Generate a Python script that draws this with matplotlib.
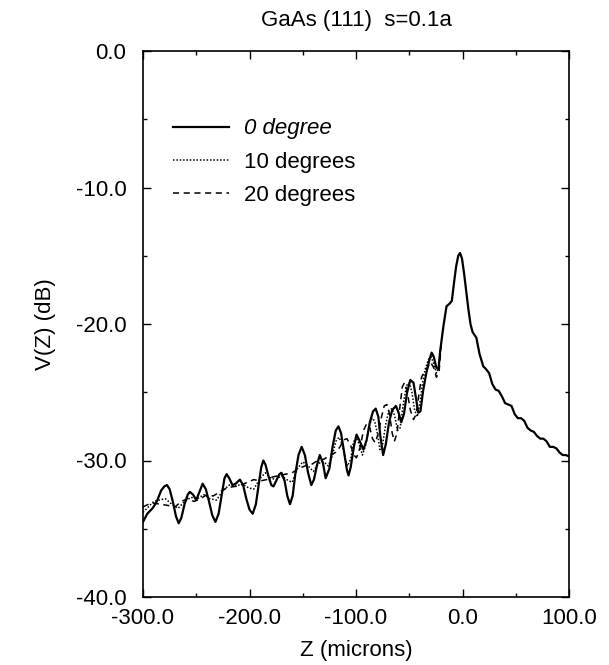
import matplotlib
matplotlib.use("Agg")
import matplotlib.pyplot as plt
from matplotlib.ticker import MultipleLocator, FormatStrFormatter

plt.rcParams['font.family'] = ['Liberation Sans', 'DejaVu Sans']

# ---- data ----
z0 = [-300, -296, -291, -287, -283, -280, -277.5, -275, -272, -269, -266.5, -264, -261, -258, -256,
      -253, -250, -247, -244, -241, -238, -235, -232, -229, -226, -223.5, -221.5, -219, -216, -213,
      -209, -206, -203, -200, -197, -194, -191, -189, -187, -185, -182, -179.5, -177.5, -175, -172,
      -170, -167, -164.5, -162, -159.5, -157, -154, -151, -148, -145, -142, -139.5, -136.5, -134,
      -131, -128.5, -125, -122, -119, -116.5, -114, -111, -108.5, -107, -105, -102, -99.5, -97, -93,
      -90, -87, -84, -81.5, -79, -77, -74.5, -72, -69, -66, -62.5, -60, -57.5, -55, -52, -49, -46,
      -44, -41.5, -39.5, -37, -34, -31, -29, -27, -24.5, -22.5, -21, -18, -15, -12, -10, -8, -6, -4,
      -2.3, -0.5, 1.5, 3.5, 5.5, 7.5, 9.5, 13, 16, 19.5, 22, 25, 28, 31, 34, 37, 40, 43, 46, 49, 52,
      55, 58, 61, 64, 67, 70, 73, 76, 79, 82, 85, 88, 91, 94, 97, 100]
v0 = [-34.5, -33.9, -33.5, -33.0, -32.2, -31.9, -31.8, -32.1, -33.0, -34.1, -34.6, -34.2, -33.2, -32.5, -32.3,
      -32.5, -32.9, -32.3, -31.7, -32.1, -33.0, -34.0, -34.5, -33.9, -32.5, -31.3, -31.0, -31.3, -31.8, -31.7,
      -31.4, -31.8, -32.8, -33.6, -33.9, -33.2, -31.6, -30.5, -30.0, -30.3, -31.2, -31.8, -31.9, -31.5, -31.0,
      -30.9, -31.5, -32.6, -33.2, -32.6, -31.0, -29.6, -29.0, -29.6, -30.9, -31.8, -31.4, -30.3, -29.6,
      -30.2, -31.3, -30.6, -29.0, -27.8, -27.5, -28.0, -29.5, -30.7, -31.1, -30.5, -29.0, -28.1, -28.5, -29.2,
      -28.5, -27.2, -26.4, -26.2, -26.8, -28.3, -29.6, -28.8, -27.2, -26.3, -26.0, -26.5, -27.2, -26.6, -25.0, -24.1, -24.3,
      -25.3, -26.5, -26.4, -24.9, -23.6, -22.6, -22.1, -22.4, -23.2, -23.3, -22.0, -20.2, -18.7, -18.5, -18.3, -17.0, -15.8, -15.0,
      -14.8, -15.2, -16.3, -17.6, -18.9, -20.0, -20.6, -21.0, -22.2, -23.1, -23.3, -23.6, -24.4, -24.8, -24.9, -25.3, -25.8, -25.9, -26.0, -26.6, -26.9,
      -26.9, -27.1, -27.6, -27.8, -27.9, -28.2, -28.4, -28.4, -28.6, -29.0, -29.0, -29.1, -29.4, -29.6, -29.6, -29.7]

z10 = [-300, -295, -290, -285, -279, -273, -267, -261, -255, -249, -243, -237, -231, -225, -219, -213,
       -207, -201, -196, -190, -185, -180, -175, -170, -165, -160, -155, -150, -145, -140, -135, -130,
       -126, -122, -119, -116, -113, -110, -108, -105, -102.5, -100, -97, -94, -91, -88, -85, -82.5,
       -80, -77.5, -75, -72, -69, -66, -63.5, -61, -58.5, -55.5, -52.5, -50, -47.5, -45, -42.5, -40,
       -37.5, -35, -32, -29.5, -27, -24.5, -22.5, -20]
v10 = [-33.8, -33.4, -33.0, -32.9, -32.8, -33.2, -33.5, -33.0, -32.7, -32.8, -32.5, -32.8, -32.9, -32.2, -31.8, -31.9,
       -31.7, -32.0, -32.1, -31.3, -30.9, -31.3, -31.4, -31.1, -31.4, -31.6, -30.6, -30.1, -30.4, -30.8, -30.2, -30.1,
       -30.4, -29.6, -28.6, -28.3, -28.8, -29.9, -30.4, -29.9, -28.7, -28.3, -28.8, -29.6, -28.9, -27.6, -26.9, -27.1,
       -28.0, -29.2, -28.8, -27.3, -26.3, -26.2, -26.8, -27.8, -27.6, -25.8, -24.5, -24.3, -25.0, -26.3, -26.8, -25.8,
       -24.3, -23.3, -22.6, -22.4, -22.9, -23.6, -23.2, -21.5]

z20 = [-300, -292, -284, -276, -270, -264, -258, -252, -246, -240, -234, -228, -221, -214, -208, -202,
       -196, -190, -184, -178, -172, -166, -160, -154, -148, -142, -136, -130, -124, -119, -115, -112,
       -108.5, -105, -102, -99.5, -96, -93, -90, -87, -84.5, -82, -79, -76, -73.5, -71, -68.5, -66, -64,
       -61.5, -59, -56.5, -54.5, -52, -49, -46, -43.5, -41, -38.5, -36.5, -33, -30, -27, -24.5, -22, -20]
v20 = [-33.4, -33.1, -33.2, -33.3, -33.4, -33.0, -32.8, -33.0, -32.8, -32.5, -32.6, -32.3, -32.0, -31.9, -31.8, -31.6,
       -31.4, -31.5, -31.4, -31.2, -31.1, -31.0, -30.9, -30.6, -30.4, -30.3, -30.0, -29.9, -29.6, -29.4, -29.0, -28.5,
       -28.4, -28.9, -29.6, -29.8, -29.0, -27.8, -27.3, -27.6, -28.4, -28.7, -28.0, -26.8, -26.0, -25.9, -26.6, -28.0, -28.6,
       -28.0, -26.2, -24.6, -24.3, -24.9, -26.3, -27.0, -26.6, -25.2, -23.9, -23.6, -23.2, -22.8, -23.2, -23.9, -23.5, -21.5]

labels = ["0 degree", "10 degrees", "20 degrees"]
title = "GaAs (111)  s=0.1a"
xlabel = "Z (microns)"
ylabel = "V(Z) (dB)"

# ---- figure ----
fig = plt.figure(figsize=(6.09, 6.65), dpi=100)
ax = fig.add_axes([143/609, 1-597/665, (569-143)/609, (597-51)/665])

ax.plot(z20, v20, color='black', lw=1.1, ls=(0, (4, 3)), label=labels[2])
ax.plot(z10, v10, color='black', lw=1.1, ls=(0, (1, 1.2)), label=labels[1])
ax.plot(z0, v0, color='black', lw=1.6, ls='-', label=labels[0])

ax.set_xlim(-300, 100)
ax.set_ylim(-40, 0)
ax.xaxis.set_major_locator(MultipleLocator(100))
ax.xaxis.set_minor_locator(MultipleLocator(50))
ax.yaxis.set_major_locator(MultipleLocator(10))
ax.yaxis.set_minor_locator(MultipleLocator(5))
ax.xaxis.set_major_formatter(FormatStrFormatter('%.1f'))
ax.yaxis.set_major_formatter(FormatStrFormatter('%.1f'))
ax.tick_params(which='both', direction='in', top=True, right=True, labelsize=16, width=1)
ax.tick_params(which='major', length=6)
ax.tick_params(which='minor', length=3)
ax.tick_params(axis='y', pad=12)
ax.tick_params(axis='x', pad=8)
for s in ax.spines.values():
    s.set_linewidth(1.2)

ax.set_title(title, fontsize=16, pad=18)
ax.set_xlabel(xlabel, fontsize=16, labelpad=8)
ax.set_ylabel(ylabel, fontsize=16, labelpad=14)

h, l = ax.get_legend_handles_labels()
order = [2, 1, 0]
leg = ax.legend([h[i] for i in order], [l[i] for i in order], loc='upper left',
                bbox_to_anchor=(0.05, 0.893), frameon=False, fontsize=16,
                handlelength=2.5, handletextpad=0.7, labelspacing=0.55, borderaxespad=0)
leg.get_texts()[0].set_fontstyle('italic')

fig.savefig("out.png", dpi=100)
